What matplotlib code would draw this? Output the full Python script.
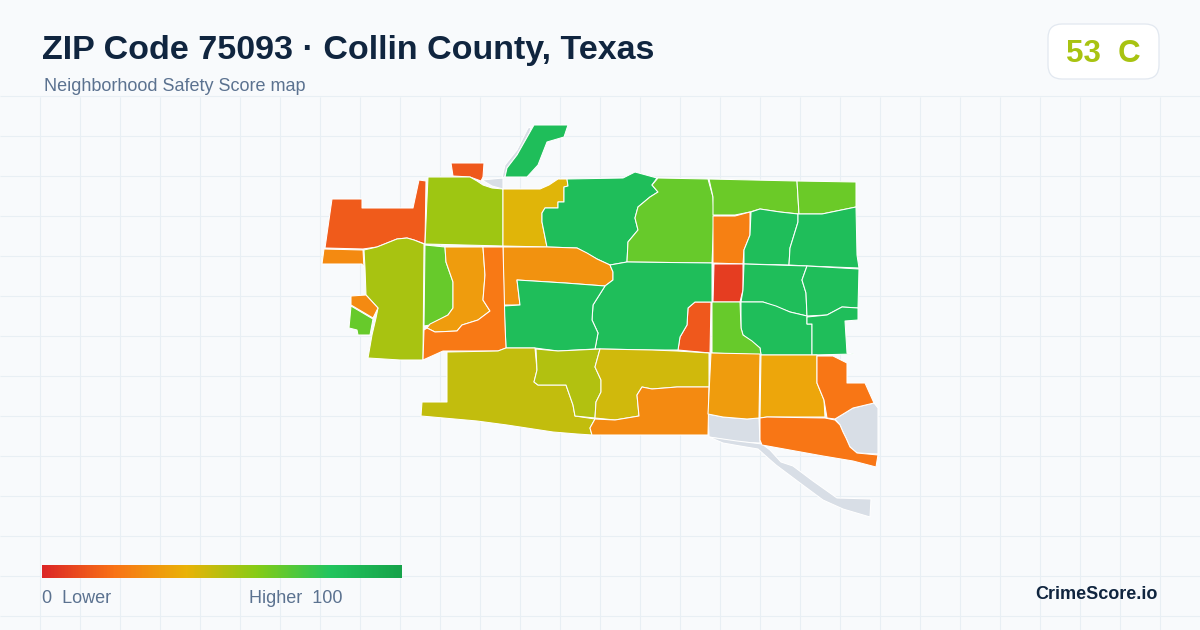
import numpy as np
import matplotlib
matplotlib.use("Agg")
import matplotlib.pyplot as plt
from matplotlib.collections import PolyCollection
from matplotlib.colors import LinearSegmentedColormap, Normalize
from matplotlib.patches import FancyBboxPatch

plt.rcParams['font.family'] = ['Liberation Sans', 'DejaVu Sans']

# 1. Data

title = "ZIP Code 75093 · Collin County, Texas"
subtitle = "Neighborhood Safety Score map"
overall_score = 53
overall_grade = "C"

ramp_stops = [0.0, 0.2, 0.4, 0.6, 0.8, 1.0]
ramp_colors = ["#dc2626", "#f97316", "#eab308", "#84cc16", "#22c55e", "#16a34a"]

# tract outlines, in map units. nan score = no data
tract_scores = [
    np.nan, np.nan, np.nan, np.nan, np.nan,
    14, 27, 53, 27, 66,
    13, 55, 84, 42, 84,
    30, 66, 65, 65, 24,
    84, 84, 6, 84, 84,
    84, 84, 66, 13, 84,
    84, 66, 33, 22, 48,
    51, 45, 27, 33, 36,
    21, 21,
]

tract_shapes = [
    # no data
    [(482,180),(503,178),(503,189),(492,186)],
    [(505,177),(507,168),(517,155),(530,132),(531,127),(528,128),(517,150),(505,165),(502,178)],
    [(835,419),(853,408),(874,403),(878,408),(878,454),(857,453),(850,447),(846,438),(843,432),(840,425)],
    [(708,414),(723,417),(747,419),(759,418),(760,443),(737,442),(709,437)],
    [(709,437),(737,441),(762,444),(770,450),(781,462),(793,466),(813,481),(837,498),(871,499),(870,517),(843,509),(823,500),(800,483),(776,465),(768,458),(758,449),(740,446),(723,443)],
    # north west
    [(332,199),(362,199),(362,208),(413,208),(419,180),(426,181),(425,244),(414,240),(407,238),(397,239),(387,243),(377,247),(363,249),(325,248)],
    [(324,249),(363,250),(364,268),(362,264),(322,264)],
    [(364,250),(377,247),(387,243),(397,239),(407,238),(414,240),(424,244),(423,360),(400,360),(368,358),(372,335),(376,318),(378,308),(366,295),(365,268)],
    [(351,296),(366,295),(378,308),(373,318),(351,305)],
    [(351,306),(373,319),(370,335),(358,335),(357,330),(349,328)],
    [(451,163),(484,163),(483,177),(481,181),(470,177),(453,176)],
    [(428,177),(462,177),(470,177),(477,181),(483,185),(492,188),(503,189),(503,246),(425,244)],
    [(534,125),(568,125),(564,137),(547,142),(538,165),(527,177),(505,177),(507,168),(517,155),(530,132)],
    [(503,189),(540,189),(549,185),(558,179),(567,179),(568,186),(564,187),(564,202),(558,202),(558,208),(545,208),(542,213),(542,222),(547,247),(503,246)],
    [(567,179),(623,178),(635,172),(657,178),(652,185),(658,192),(650,197),(638,207),(635,218),(638,230),(628,242),(627,262),(610,265),(597,259),(577,248),(547,247),(542,222),(542,213),(545,208),(558,208),(558,202),(564,202),(564,187),(568,186)],
    [(503,247),(547,247),(577,248),(587,253),(597,259),(610,265),(613,272),(613,280),(605,286),(565,283),(517,280),(520,305),(504,305)],
    # north east
    [(658,178),(708,179),(713,197),(714,215),(712,263),(627,262),(628,242),(638,230),(635,218),(638,207),(650,197),(658,192),(652,185)],
    [(709,179),(797,181),(799,214),(780,212),(760,209),(750,212),(735,215),(713,215),(713,197)],
    [(797,181),(856,182),(856,207),(822,214),(799,214)],
    [(713,216),(735,216),(750,212),(750,235),(744,250),(743,264),(713,263)],
    [(751,212),(760,209),(780,212),(798,214),(798,222),(790,248),(789,265),(744,264),(744,250),(750,235)],
    [(798,214),(822,214),(856,207),(857,255),(859,268),(807,266),(789,265),(790,248),(798,222)],
    [(714,264),(743,264),(743,290),(740,302),(713,302)],
    [(744,264),(807,266),(802,280),(806,293),(807,316),(790,312),(763,302),(741,302),(743,290)],
    [(807,266),(859,269),(858,308),(842,307),(827,315),(807,316),(806,293),(802,280)],
    [(741,302),(763,302),(776,306),(790,312),(807,316),(807,324),(812,324),(812,355),(761,355),(760,348),(743,335),(741,328)],
    [(807,317),(827,315),(842,307),(858,308),(858,320),(845,321),(847,353),(854,354),(812,355),(812,324),(807,324)],
    [(712,302),(740,302),(741,328),(743,335),(752,341),(760,348),(761,355),(712,353)],
    [(695,302),(711,302),(710,353),(678,350),(680,337),(687,325),(688,308)],
    # middle
    [(627,262),(712,263),(712,302),(695,302),(688,308),(687,325),(680,337),(678,350),(652,350),(600,349),(595,349),(598,333),(592,320),(593,305),(605,286),(613,280),(613,272),(610,265)],
    [(504,306),(520,305),(517,280),(565,283),(605,286),(593,305),(592,320),(598,333),(595,349),(558,351),(535,348),(506,348)],
    [(425,245),(445,247),(446,262),(453,282),(453,308),(448,315),(430,325),(424,326)],
    [(445,247),(483,247),(485,275),(483,300),(490,311),(478,320),(462,325),(457,331),(435,332),(427,328),(430,324),(448,315),(453,308),(453,282),(446,262)],
    [(483,247),(503,247),(505,325),(506,348),(498,351),(443,351),(423,360),(424,330),(427,328),(435,332),(457,331),(462,325),(478,320),(490,311),(483,300),(485,275)],
    # south
    [(447,352),(498,351),(506,348),(535,348),(537,370),(534,382),(538,385),(566,385),(573,405),(575,416),(595,419),(590,428),(592,435),(577,434),(553,432),(507,425),(477,421),(421,416),(422,402),(447,402)],
    [(536,349),(558,351),(600,349),(595,367),(601,380),(601,392),(596,402),(595,418),(575,416),(573,405),(566,385),(538,385),(534,382),(537,370)],
    [(600,349),(652,350),(677,351),(709,353),(709,387),(677,387),(652,389),(642,387),(637,395),(639,416),(615,420),(595,418),(596,402),(601,392),(601,380),(595,367)],
    [(642,387),(652,389),(677,387),(709,387),(708,435),(592,435),(590,428),(595,419),(615,420),(639,416),(637,395)],
    [(711,353),(760,354),(759,418),(747,419),(723,417),(708,414)],
    [(761,355),(817,355),(817,383),(824,400),(825,417),(767,417),(760,418)],
    [(817,356),(833,356),(847,363),(847,383),(865,383),(874,403),(853,408),(835,419),(827,418),(824,400),(817,383)],
    [(760,418),(767,417),(825,418),(835,420),(840,425),(843,432),(846,438),(850,447),(857,453),(878,455),(876,467),(853,461),(823,456),(762,445),(760,440)],
]

# 2. Figure, one axes over the whole canvas

fig = plt.figure(figsize=(12, 6.3), dpi=100, facecolor="#f8fafc")
ax = fig.add_axes([0, 0, 1, 1])
ax.set_xlim(0, 1200)
ax.set_ylim(630, 0)
ax.axis("off")

# 3. Background grid

ax.vlines(np.arange(40, 1200, 40), 97, 630, color="#e8eff4", lw=0.8, zorder=0)
ax.hlines(np.arange(96, 630, 40), 0, 1200, color="#e8eff4", lw=0.8, zorder=0)

# 4. Tracts

cmap = LinearSegmentedColormap.from_list("score", list(zip(ramp_stops, ramp_colors)))
cmap.set_bad("#d8dee6")
norm = Normalize(0, 100)

tracts = PolyCollection(tract_shapes, array=np.ma.masked_invalid(tract_scores), cmap=cmap, norm=norm,
                        edgecolors="white", linewidths=0.75, joinstyle="round", zorder=2)
ax.add_collection(tracts)

# 5. Header and badge

ax.text(42, 58.5, title, fontsize=24.45, fontweight="bold", color="#10253f", ha="left", va="baseline")
ax.text(44, 91, subtitle, fontsize=12.95, color="#5b7290", ha="left", va="baseline")

badge = FancyBboxPatch((1062, 38), 83, 27, boxstyle="round,pad=14,rounding_size=14",
                       facecolor="white", edgecolor="#e2e8f0", lw=0.9, zorder=3)
ax.add_patch(badge)
ax.text(1103.5, 62, f"{overall_score}  {overall_grade}", fontsize=22.5, fontweight="bold",
        color=cmap(norm(overall_score)), ha="center", va="baseline", zorder=4)

# 6. Legend

ax.imshow(np.linspace(0, 100, 360).reshape(1, -1), cmap=cmap, norm=norm, aspect="auto",
          extent=(42, 402, 578, 565), zorder=3)
ax.set_xlim(0, 1200)
ax.set_ylim(630, 0)
ax.text(42, 603, "0  Lower", fontsize=12.95, color="#5b7290", ha="left", va="baseline")
ax.text(249, 603, "Higher  100", fontsize=12.95, color="#5b7290", ha="left", va="baseline")
ax.text(1158, 599, "CrimeScore.io", fontsize=13, fontweight="bold", color="#10253f", ha="right", va="baseline")

fig.savefig("out.png", dpi=100, facecolor=fig.get_facecolor())
plt.close(fig)
